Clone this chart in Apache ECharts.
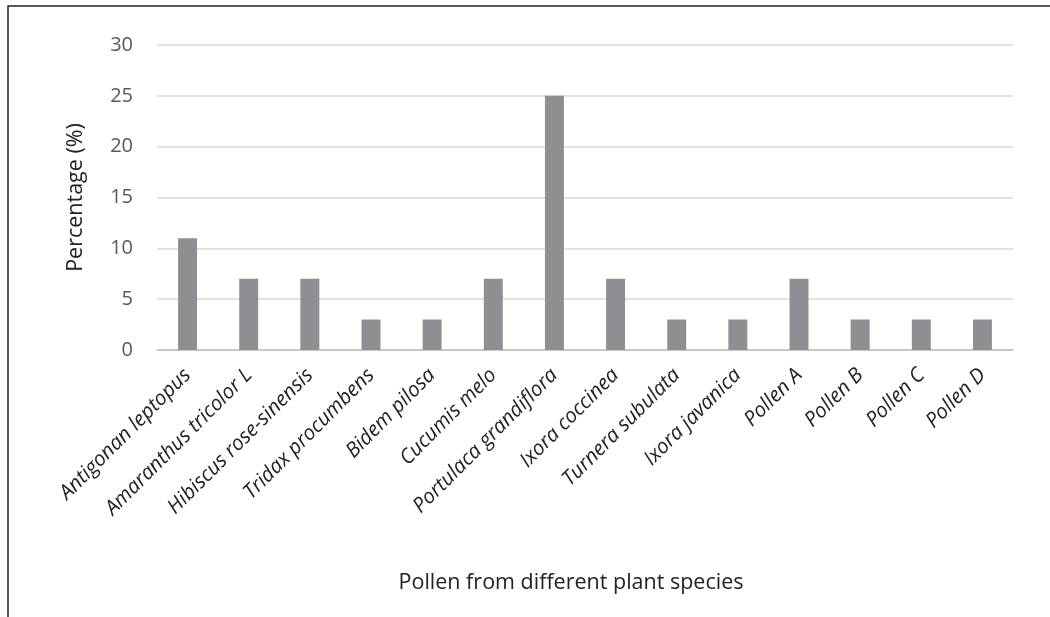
<!DOCTYPE html>
<html><head><meta charset="utf-8">
<script src="https://cdn.jsdelivr.net/npm/echarts@6/dist/echarts.min.js"></script>
<style>html,body{margin:0;padding:0;background:#fff}#c{width:1050px;height:617px}</style>
</head><body><div id="c"></div>
<script>
const categories = ["Antigonan leptopus","Amaranthus tricolor L","Hibiscus rose-sinensis","Tridax procumbens","Bidem pilosa","Cucumis melo","Portulaca grandiflora","Ixora coccinea","Turnera subulata","Ixora javanica","Pollen A","Pollen B","Pollen C","Pollen D"];
const values = [11,7,7,3,3,7,25,7,3,3,7,3,3,3];
const yTicks = [0,5,10,15,20,25,30];
const chart = echarts.init(document.getElementById('c'));
chart.setOption({
  animation:false,
  graphic:[{type:'rect',shape:{x:8,y:6,width:1100,height:700},style:{fill:'none',stroke:'#222',lineWidth:1.5},silent:true}],
  grid:{left:157,right:37,top:45,bottom:267},
  xAxis:{type:'category',data:categories,
    axisLine:{lineStyle:{color:'#bfbfbf',width:1.5}},axisTick:{show:false},
    axisLabel:{rotate:45,interval:0,fontStyle:'italic',fontSize:20.5,color:'#222',fontFamily:'Open Sans',margin:22},
    name:'Pollen from different plant species',nameLocation:'middle',nameGap:222,
    nameTextStyle:{fontSize:21.5,color:'#222',fontFamily:'Open Sans',padding:[0,28,0,0]}},
  yAxis:{type:'value',min:yTicks[0],max:yTicks[yTicks.length-1],interval:5,
    axisLine:{show:false},axisTick:{show:false},
    splitLine:{lineStyle:{color:'#d9d9d9',width:1.5}},
    axisLabel:{fontSize:20,color:'#595959',fontFamily:'Open Sans',margin:24},
    name:'Percentage (%)',nameLocation:'middle',nameGap:70,
    nameTextStyle:{fontSize:21.5,color:'#222',fontFamily:'Open Sans'}},
  series:[{type:'bar',data:values,barWidth:'31%',itemStyle:{color:'#8f8f93'}}]
});
</script></body></html>
